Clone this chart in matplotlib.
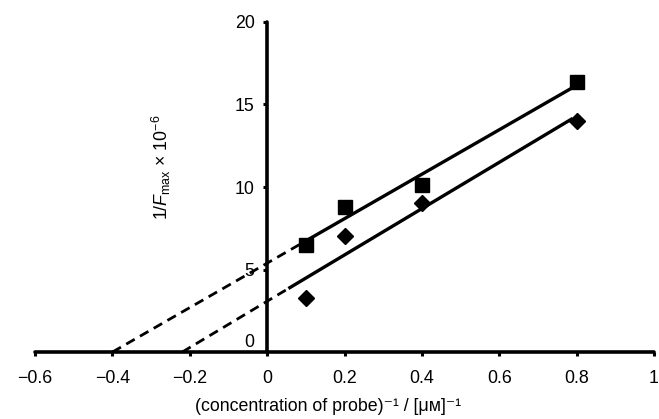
import numpy as np
import matplotlib
matplotlib.use("Agg")
import matplotlib.pyplot as plt

plt.rcParams['font.family'] = ['Liberation Sans', 'DejaVu Sans']
plt.rcParams['mathtext.fontset'] = 'custom'
plt.rcParams['mathtext.rm'] = 'Liberation Sans'
plt.rcParams['mathtext.it'] = 'Liberation Sans:italic'

# reciprocal probe concentration, 1/uM
conc_inv = [0.1, 0.2, 0.4, 0.8]
# 1/Fmax x 1e-6 for the two series
square_vals = [6.5, 8.8, 10.1, 16.35]
diamond_vals = [3.3, 7.05, 9.0, 14.0]
# where the solid fit lines start / stop
square_fit_range = [0.09, 0.79]
diamond_fit_range = [0.055, 0.79]

xticks = [-0.6, -0.4, -0.2, 0, 0.2, 0.4, 0.6, 0.8, 1]
xticklabels = ['\u22120.6', '\u22120.4', '\u22120.2', '0', '0.2', '0.4', '0.6', '0.8', '1']
yticks = [5, 10, 15, 20]

fs = 12.8

fig = plt.figure(figsize=(6.59, 4.19), dpi=100)
ax = fig.add_axes([35 / 659, 67 / 419, 619 / 659, 330 / 419])
ax.set_xlim(-0.6, 1)
ax.set_ylim(0, 20)

for vals, rng, mk in [(square_vals, square_fit_range, 's'),
                      (diamond_vals, diamond_fit_range, 'D')]:
    slope, icpt = np.polyfit(conc_inv, vals, 1)
    x0 = -icpt / slope
    # extrapolated part down to the x intercept
    xd = np.array([x0, rng[0]])
    ax.plot(xd, slope * xd + icpt, color='black', lw=2.0, ls=(0, (3.5, 2.2)),
            clip_on=False)
    xs = np.array(rng)
    ax.plot(xs, slope * xs + icpt, color='black', lw=2.4, solid_capstyle='butt')
    ms = 9.5 if mk == 's' else 8.5
    ax.plot(conc_inv, vals, ls='none', marker=mk, ms=ms, color='black',
            clip_on=False)

# axes crossing at the origin
for s in ['top', 'right']:
    ax.spines[s].set_visible(False)
ax.spines['left'].set_position(('data', 0))
ax.spines['bottom'].set_position(('data', 0))
for s in ['left', 'bottom']:
    ax.spines[s].set_linewidth(2.6)
    ax.spines[s].set_capstyle('round')

ax.set_xticks(xticks)
ax.set_xticklabels(xticklabels)
ax.set_yticks(yticks)
ax.tick_params(axis='both', direction='out', length=3, width=2.2, labelsize=fs)
ax.tick_params(axis='x', pad=10)
ax.tick_params(axis='y', pad=6)
ax.text(-0.033, 0.6, '0', ha='right', va='center', fontsize=fs)

ax.text(-0.272, 11.2, '1/$F_{\\mathrm{max}}$ \u00d7 10$^{-6}$', rotation=90,
        ha='center', va='center', fontsize=fs)
fig.text(328 / 659, 1 - 406 / 419,
         '(concentration of probe)\u207b\u00b9 / [\u03bc\u1d0d]\u207b\u00b9',
         ha='center', va='center', fontsize=fs)

fig.savefig('out.png', dpi=100)
